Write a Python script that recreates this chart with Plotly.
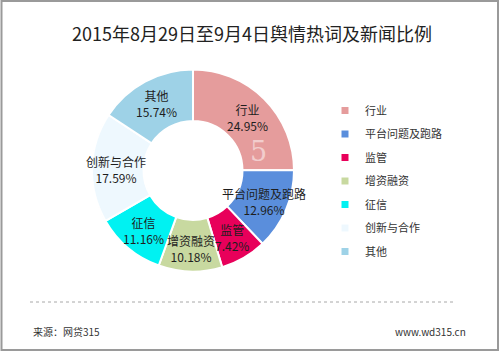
import math
import plotly.graph_objects as go

# ---- data ----
categories = ["行业", "平台问题及跑路", "监管", "增资融资", "征信", "创新与合作", "其他"]
percents = [24.95, 12.96, 7.42, 10.18, 11.16, 17.59, 15.74]
title_text = "2015年8月29日至9月4日舆情热词及新闻比例"
source_text = "来源：网贷315"
site_text = "www.wd315.cn"

# ---- styles ----
colors = ["#E59C9C", "#5A8EDC", "#E8005A", "#C8D9A0", "#00F2F2", "#EEF8FE", "#9ED2E7"]
FONT = "Noto Sans CJK SC"
W, H = 500, 352
CX, CY, R, HOLE = 193.0, 170.5, 101.0, 0.49

def px(x):
    return x / W

def py(y):
    return 1 - y / H

fig = go.Figure()

fig.add_trace(go.Pie(
    labels=categories,
    values=percents,
    sort=False,
    direction="clockwise",
    rotation=0,
    hole=HOLE,
    marker=dict(colors=colors, line=dict(color="white", width=2)),
    textinfo="none",
    hoverinfo="label+percent",
    showlegend=False,
    domain=dict(x=[px(CX - R), px(CX + R)], y=[py(CY + R), py(CY - R)]),
))

# legend entries (one group each so spacing can be tuned)
for i, (c, col) in enumerate(zip(categories, colors)):
    fig.add_trace(go.Scatter(
        x=[None], y=[None], mode="markers", name=c,
        legendgroup=f"g{i}",
        marker=dict(symbol="square", size=7, color=col),
    ))

# slice labels placed at the middle of each ring segment (angles from data)
total = sum(percents)
cum = 0.0
r_mid = R * (1 + HOLE) / 2 + 1.5
annotations = []
for c, v in zip(categories, percents):
    mid = (cum + v / 2) / total * 2 * math.pi
    cum += v
    x = CX + r_mid * math.sin(mid)
    y = CY - r_mid * math.cos(mid) + 1
    annotations.append(dict(
        x=px(x), y=py(y), xref="paper", yref="paper",
        xanchor="center", yanchor="middle",
        text=f"{c}<br>{v:.2f}%", showarrow=False,
        font=dict(family=FONT, size=12, color="#1e1e1e"),
        align="center",
    ))

# watermark in first slice
annotations.append(dict(
    x=px(258), y=py(151), xref="paper", yref="paper", text="5", showarrow=False,
    xanchor="center", yanchor="middle",
    font=dict(family="DejaVu Serif", size=27, color="rgba(255,255,255,0.5)"),
))

annotations += [
    dict(x=px(252), y=py(33), xref="paper", yref="paper", text=title_text,
         xanchor="center", yanchor="middle",
         showarrow=False, font=dict(family=FONT, size=18, color="#222222")),
    dict(x=px(31), y=py(331), xref="paper", yref="paper", text=source_text,
         xanchor="left", yanchor="middle",
         showarrow=False, font=dict(family=FONT, size=10, color="#333333")),
    dict(x=px(468), y=py(331), xref="paper", yref="paper", text=site_text,
         xanchor="right", yanchor="middle",
         showarrow=False, font=dict(family=FONT, size=10, color="#333333")),
]

shapes = [
    dict(type="rect", xref="paper", yref="paper",
         x0=px(1.5), x1=px(498), y0=py(350), y1=py(1),
         line=dict(color="#9a9a9a", width=2), fillcolor="rgba(0,0,0,0)"),
    dict(type="line", xref="paper", yref="paper",
         x0=px(30), x1=px(455), y0=py(302), y1=py(302),
         line=dict(color="#a8a8a8", width=1, dash="dot")),
]

fig.update_layout(
    width=W, height=H,
    margin=dict(l=0, r=0, t=0, b=0),
    paper_bgcolor="white", plot_bgcolor="white",
    xaxis=dict(visible=False), yaxis=dict(visible=False),
    annotations=annotations, shapes=shapes,
    legend=dict(
        x=px(325), y=py(96), xanchor="left", yanchor="top",
        font=dict(family=FONT, size=11, color="#333333"),
        tracegroupgap=4.5, traceorder="grouped",
        bgcolor="rgba(0,0,0,0)",
    ),
    font=dict(family=FONT),
)

fig.write_html("out.html")
